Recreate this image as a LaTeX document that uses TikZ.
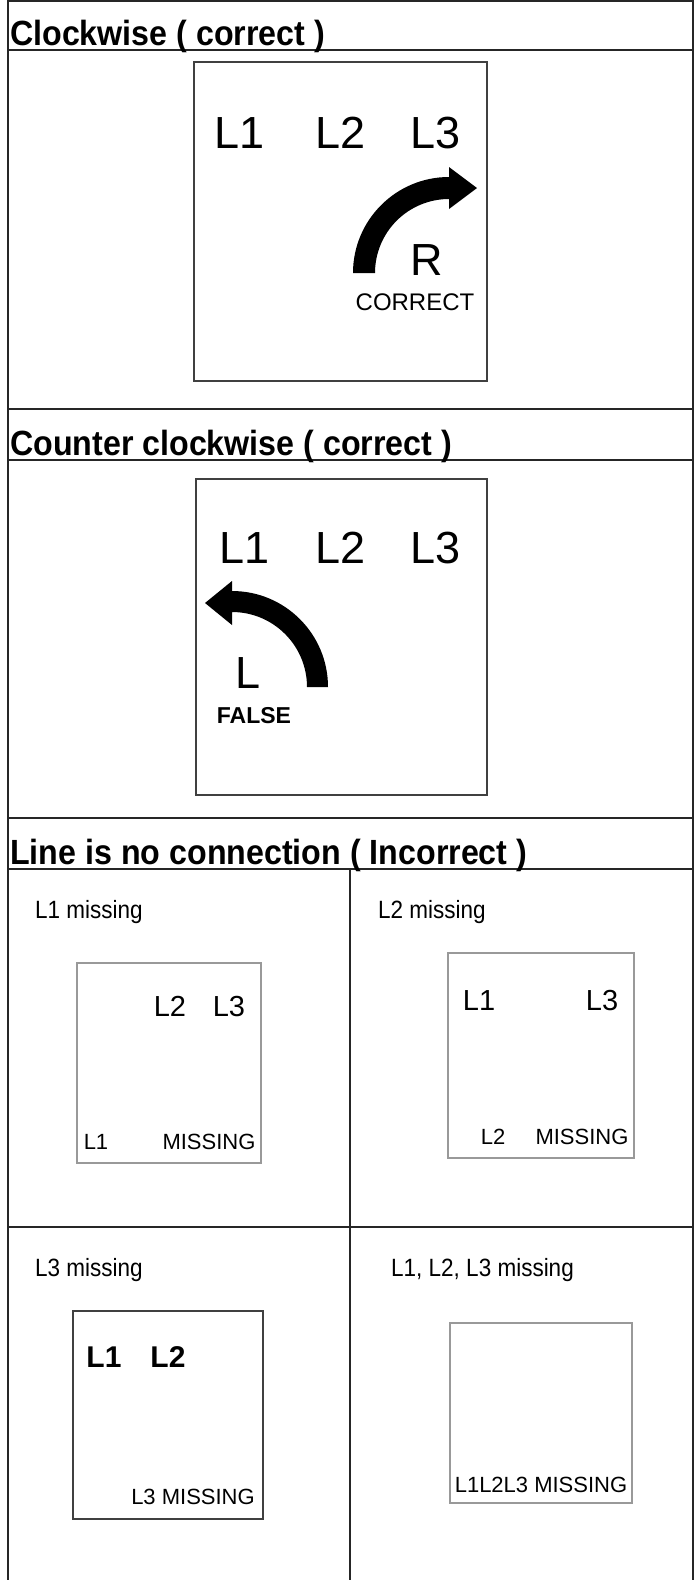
\documentclass[tikz,border=0pt]{standalone}
\usepackage{fontspec}
\setmainfont{Liberation Sans}
\newfontfamily\narrowfont[FakeStretch=0.92]{Liberation Sans}
\newfontfamily\cellfont[FakeStretch=0.9]{Liberation Sans}
\begin{document}
\begin{tikzpicture}[x=1pt,y=1pt,
  rule/.style={line width=1.3pt, draw=black!85},
  darkbox/.style={line width=1.2pt, draw=black!75},
  greybox/.style={line width=1.2pt, draw=black!40},
  title/.style={anchor=base west, inner sep=0pt, font=\narrowfont\fontsize{35}{38}\selectfont\bfseries},
  cell/.style={anchor=base west, inner sep=0pt, font=\cellfont\fontsize{25}{28}\selectfont},
  big/.style={anchor=base, inner sep=0pt, font=\fontsize{45}{48}\selectfont},
  mid/.style={anchor=base, inner sep=0pt, font=\fontsize{29}{32}\selectfont},
  midb/.style={anchor=base, inner sep=0pt, font=\fontsize{30}{33}\selectfont\bfseries},
  small/.style={anchor=base, inner sep=0pt, font=\fontsize{22}{25}\selectfont},
  smallb/.style={anchor=base, inner sep=0pt, font=\fontsize{23}{26}\selectfont\bfseries},
  turn/.style={fill=black}]
\useasboundingbox (0,0) rectangle (694,-1580);
\fill[white] (0,0) rectangle (694,-1580);

% table rules
\draw[rule] (8,-1580) -- (8,-1) -- (693,-1) -- (693,-1580);
\foreach \yy in {50,409,460,818,869,1227}
  \draw[rule] (8,-\yy) -- (693,-\yy);
\draw[rule] (350,-869) -- (350,-1580);

% titles
\node[title] (t1) at (10,-45) {Clockwise ( correct )};
\node[title] (t2) at (10,-455) {Counter clockwise ( correct )};
\node[title] (t3) at (10,-864) {Line is no connection ( Incorrect )};

% box 1 : clockwise
\draw[darkbox] (194,-62) rectangle (487,-381);
\node[big] (a1) at (240,-148) {L1};
\node[big] (a2) at (341,-148) {L2};
\node[big] (a3) at (436,-148) {L3};
\fill[turn] (353,-273) arc[start angle=180, end angle=90, radius=96]
  -- (449,-167) -- (477,-188) -- (449,-209) -- (449,-199)
  arc[start angle=90, end angle=180, radius=74] -- cycle;
\node[big] (ar) at (427,-275) {R};
\node[small, font=\fontsize{24}{26}\selectfont] (ac) at (415,-310) {CORRECT};

% box 2 : counter clockwise
\draw[darkbox] (196,-479) rectangle (487,-795);
\node[big] (b1) at (245,-563) {L1};
\node[big] (b2) at (341,-563) {L2};
\node[big] (b3) at (436,-563) {L3};
\fill[turn] (328,-687) arc[start angle=0, end angle=90, radius=96]
  -- (232,-581) -- (205,-603) -- (232,-625) -- (232,-612)
  arc[start angle=90, end angle=0, radius=75] -- cycle;
\node[big] (bl) at (248,-688) {L};
\node[smallb] (bf) at (254,-723) {FALSE};

% cell labels
\node[cell] (c1) at (35,-918) {L1 missing};
\node[cell] (c2) at (378,-918) {L2 missing};
\node[cell] (c3) at (35,-1276) {L3 missing};
\node[cell] (c4) at (391,-1276) {L1, L2, L3 missing};

% L1 missing box
\draw[greybox] (77,-963) rectangle (261,-1163);
\node[mid] (d2) at (170,-1016) {L2};
\node[mid] (d3) at (229,-1016) {L3};
\node[small] (d1) at (96,-1149) {L1};
\node[small] (dm) at (209,-1149) {MISSING};

% L2 missing box
\draw[greybox] (448,-953) rectangle (634,-1158);
\node[mid] (e1) at (479,-1010) {L1};
\node[mid] (e3) at (602,-1010) {L3};
\node[small] (e2) at (493,-1144) {L2};
\node[small] (em) at (582,-1144) {MISSING};

% L3 missing box
\draw[darkbox] (73,-1311) rectangle (263,-1519);
\node[midb] (f1) at (104,-1367) {L1};
\node[midb] (f2) at (168,-1367) {L2};
\node[small] (fm) at (193,-1504) {L3 MISSING};

% all missing box
\draw[greybox] (450,-1323) rectangle (632,-1503);
\node[small] (gm) at (541,-1492) {L1L2L3 MISSING};
\end{tikzpicture}
\end{document}
